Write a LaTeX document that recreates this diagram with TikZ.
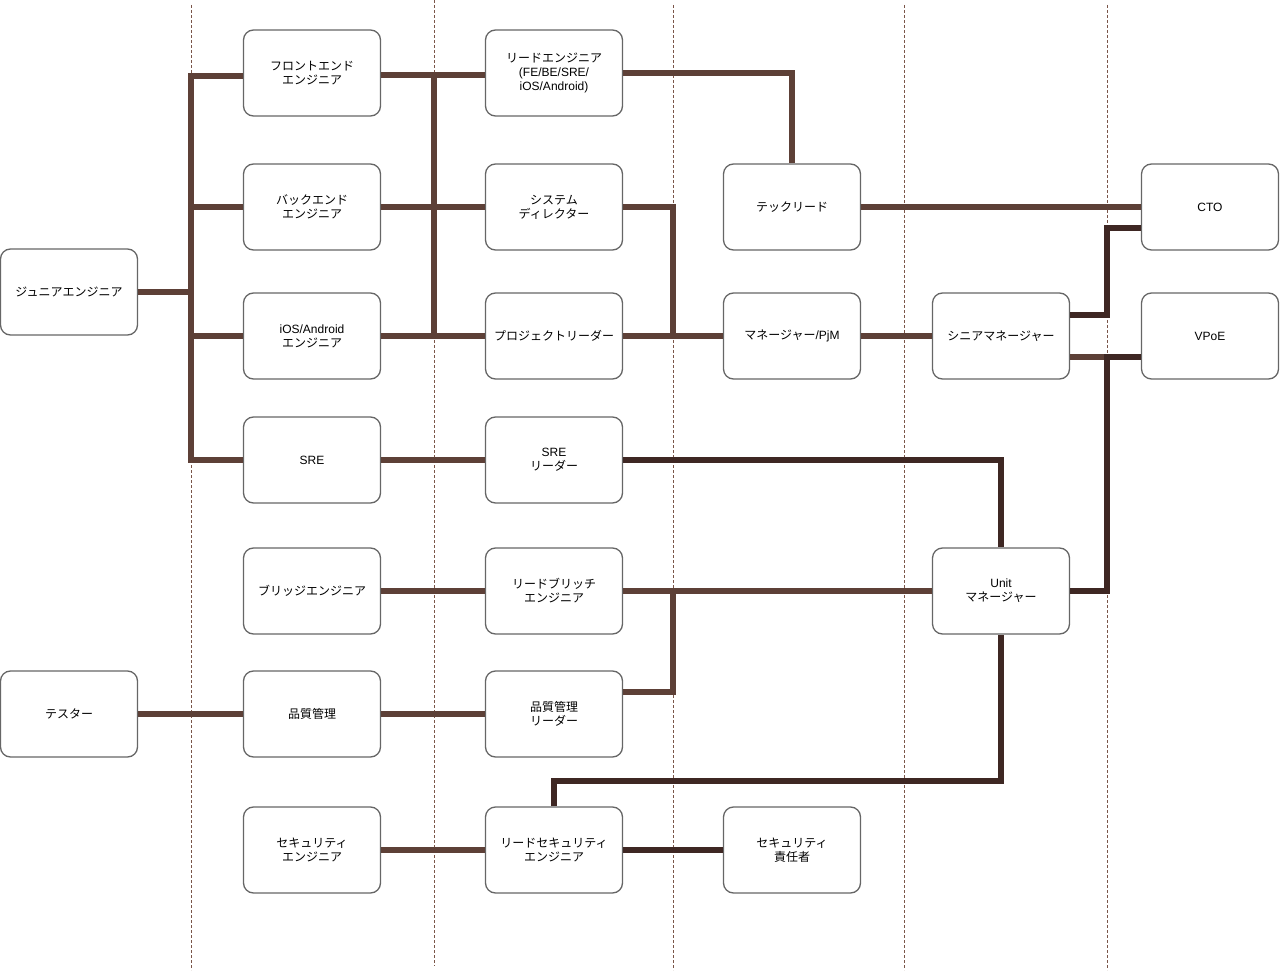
\documentclass[tikz,border=0pt]{standalone}
\usepackage{fontspec}
\setmainfont{Liberation Sans}
\newfontfamily\jpfont{Noto Sans CJK JP}
\newcommand\jtext[1]{{\jpfont #1}}
\definecolor{brownc}{HTML}{5D4037}
\definecolor{darkc}{HTML}{3E2723}
\definecolor{boxgray}{HTML}{666666}
\definecolor{sepc}{HTML}{7A5548}
\begin{document}
\begin{tikzpicture}[x=1pt,y=-1pt,
  box/.style={draw=boxgray, line width=1.3pt, rounded corners=10pt, fill=white,
    minimum width=137pt, minimum height=86pt, align=center, inner sep=0pt,
    font=\fontsize{12}{14}\selectfont},
  conn/.style={draw=brownc, line width=5.5pt},
  connd/.style={draw=darkc, line width=5.5pt},
  sepline/.style={draw=sepc, line width=1pt, dash pattern=on 3pt off 2pt}]
\useasboundingbox (0,0) rectangle (1280,976);
% separators
\draw[sepline] (191,5) -- (191,970);
\draw[sepline] (434,0) -- (434,966);
\draw[sepline] (673,5) -- (673,970);
\draw[sepline] (904,5) -- (904,970);
\draw[sepline] (1107,5) -- (1107,970);
% nodes
\node[box] (jr) at (69,292) {\jtext{ジュニアエンジニア}};
\node[box] (tester) at (69,714) {\jtext{テスター}};
\node[box] (fe) at (312,73) {\jtext{フロントエンド}\\\jtext{エンジニア}};
\node[box] (be) at (312,207) {\jtext{バックエンド}\\\jtext{エンジニア}};
\node[box] (ios) at (312,336) {iOS/Android\\\jtext{エンジニア}};
\node[box] (sre) at (312,460) {SRE};
\node[box] (bridge) at (312,591) {\jtext{ブリッジエンジニア}};
\node[box] (qa) at (312,714) {\jtext{品質管理}};
\node[box] (sec) at (312,850) {\jtext{セキュリティ}\\\jtext{エンジニア}};
\node[box] (lead) at (554,73) {\jtext{リードエンジニア}\\(FE/BE/SRE/\\iOS/Android)};
\node[box] (sysdir) at (554,207) {\jtext{システム}\\\jtext{ディレクター}};
\node[box] (pl) at (554,336) {\jtext{プロジェクトリーダー}};
\node[box] (srel) at (554,460) {SRE\\\jtext{リーダー}};
\node[box] (leadbr) at (554,591) {\jtext{リードブリッチ}\\\jtext{エンジニア}};
\node[box] (qal) at (554,714) {\jtext{品質管理}\\\jtext{リーダー}};
\node[box] (leadsec) at (554,850) {\jtext{リードセキュリティ}\\\jtext{エンジニア}};
\node[box] (tech) at (792,207) {\jtext{テックリード}};
\node[box] (mgr) at (792,336) {\jtext{マネージャー}/PjM};
\node[box] (secchief) at (792,850) {\jtext{セキュリティ}\\\jtext{責任者}};
\node[box] (senior) at (1001,336) {\jtext{シニアマネージャー}};
\node[box] (unit) at (1001,591) {Unit\\\jtext{マネージャー}};
\node[box] (cto) at (1210,207) {CTO};
\node[box] (vpoe) at (1210,336) {VPoE};
% bus coordinates
\coordinate (busA) at (191,0);
\coordinate (busB) at (434,0);
\coordinate (busC) at (673,0);
\coordinate (busD) at (1107,0);
\coordinate (lowbus) at (0,781);
\coordinate (fein) at ([yshift=-3pt]fe.west);
\coordinate (feout) at ([yshift=-2pt]fe.east);
\coordinate (leadin) at ([yshift=-2pt]lead.west);
\coordinate (snout1) at ([yshift=21pt]senior.east);
\coordinate (snout2) at ([yshift=-21pt]senior.east);
\coordinate (ctoin) at ([yshift=-21pt]cto.west);
\coordinate (vpoein) at ([yshift=-21pt]vpoe.west);
\coordinate (qalout) at ([yshift=22pt]qal.east);
% connectors
\draw[conn] (jr.east) -- (jr.east -| busA);
\draw[conn] (fein) -| (busA |- sre) -- (sre.west);
\draw[conn] (be.west) -- (be.west -| busA);
\draw[conn] (ios.west) -- (ios.west -| busA);
\draw[conn] (feout) -- (leadin);
\draw[conn] (be.east) -- (sysdir.west);
\draw[conn] (ios.east) -- (pl.west);
\draw[conn, line cap=rect] (busB |- leadin) -- (busB |- pl);
\draw[conn] (lead.east) -| (tech.north);
\draw[conn] (sysdir.east) -| (busC |- pl);
\draw[conn] (pl.east) -- (mgr.west);
\draw[conn] (tech.east) -- (cto.west);
\draw[conn] (mgr.east) -- (senior.west);
\draw[connd] (snout1) -| (busD |- ctoin) -- (ctoin);
\draw[conn] (snout2) -- (snout2 -| busD);
\draw[connd] (unit.east) -| (busD |- vpoein) -- (vpoein);
\draw[conn] (sre.east) -- (srel.west);
\draw[connd] (srel.east) -| (unit.north);
\draw[conn] (bridge.east) -- (leadbr.west);
\draw[conn] (leadbr.east) -- (unit.west);
\draw[conn] (qalout) -| (busC |- leadbr);
\draw[conn] (tester.east) -- (qa.west);
\draw[conn] (qa.east) -- (qal.west);
\draw[conn] (sec.east) -- (leadsec.west);
\draw[connd] (leadsec.east) -- (secchief.west);
\draw[connd] (leadsec.north) |- (lowbus -| unit) -- (unit.south);
\end{tikzpicture}
\end{document}
